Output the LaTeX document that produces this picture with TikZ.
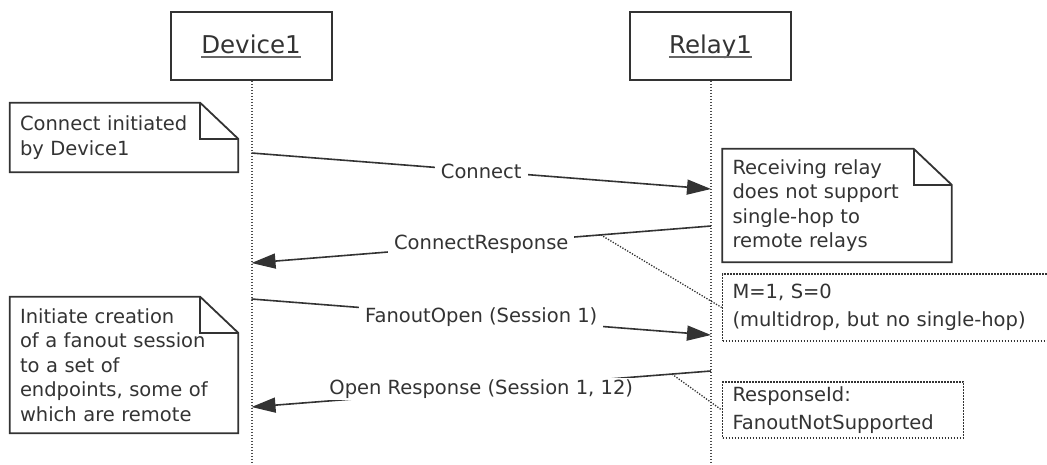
\documentclass[tikz,border=0pt]{standalone}
\usepackage{fontspec}
\setmainfont{DejaVu Sans}
\usetikzlibrary{arrows.meta}
\definecolor{ink}{HTML}{333333}
\definecolor{edge}{HTML}{333333}
\newcommand\nfnt{\fontsize{19.5pt}{24.5pt}\selectfont}
\newcommand\dfnt{\fontsize{19.5pt}{27.5pt}\selectfont}
\newcommand\hfnt{\fontsize{24.5pt}{29pt}\selectfont}
\begin{document}
\begin{tikzpicture}[x=1pt,y=-1pt,
  headbox/.style={draw=edge, line width=1.8pt, minimum width=161pt, minimum height=68pt, inner sep=0pt},
  headtxt/.style={font=\hfnt, text=ink, inner sep=0pt, anchor=base},
  uline/.style={draw=black!60, line width=2.2pt},
  lifeline/.style={draw=black!70, line width=2pt, dash pattern=on 1.5pt off 1.5pt},
  msg/.style={draw=edge, line width=1.6pt, -{Triangle[length=24pt,width=15pt]}},
  lbl/.style={fill=white, text=ink, font=\nfnt, inner xsep=6pt, inner ysep=2pt},
  notebox/.style={text=ink, font=\nfnt, align=left, inner xsep=10pt, inner ysep=0pt},
  noteline/.style={draw=edge, line width=1.8pt, line join=miter},
  dnote/.style={draw=edge, line width=1.6pt, dash pattern=on 1.6pt off 1.4pt, text=ink, font=\dfnt, align=left, inner xsep=10pt, inner ysep=0pt},
  link/.style={draw=edge, line width=1.3pt, dash pattern=on 1.3pt off 1.5pt}
]
\useasboundingbox (0,0) rectangle (1047,464);
\clip (0,0) rectangle (1047,464);

\newcommand\dogear[1]{%
  \draw[noteline] (#1.north west) -- ([xshift=-38pt]#1.north east) -- ([yshift=-36pt]#1.north east) -- (#1.south east) -- (#1.south west) -- cycle;
  \draw[noteline] ([xshift=-38pt]#1.north east) |- ([yshift=-36pt]#1.north east);}

% heads
\node[headbox] (dev) at (251.5,46) {};
\node[headtxt] (devt) at (251,53) {Device1};
\draw[uline] ([yshift=-4pt]devt.base west) -- ([yshift=-4pt]devt.base east);
\node[headbox] (rel) at (710.5,46) {};
\node[headtxt] (relt) at (710.5,53) {Relay1};
\draw[uline] ([yshift=-4pt]relt.base west) -- ([yshift=-4pt]relt.base east);

% lifelines
\coordinate (devbot) at (251.5,470);
\coordinate (relbot) at (711,470);
\draw[lifeline] (dev.south) -- (devbot);
\draw[lifeline] ([xshift=0.5pt]rel.south) -- (relbot);

% notes
\node[notebox, minimum width=228pt, minimum height=69pt, text width=208pt] (n1) at (124,137.5) {Connect initiated\\by Device1};
\dogear{n1}
\node[notebox, minimum width=229pt, minimum height=113pt, text width=209pt] (n2) at (837,205.5) {Receiving relay\\does not support\\single-hop to\\remote relays};
\dogear{n2}
\node[notebox, minimum width=228pt, minimum height=136pt, text width=208pt] (n3) at (124,365) {Initiate creation\\of a fanout session\\to a set of\\endpoints, some of\\which are remote};
\dogear{n3}

\node[dnote, minimum width=340pt, minimum height=67pt, text width=320pt] (mn) at (892.5,307.5) {M=1, S=0\\(multidrop, but no single-hop)};
\node[dnote, minimum width=241pt, minimum height=56pt, text width=221pt] (rn) at (843,410) {ResponseId:\\FanoutNotSupported};

% message end points
\coordinate (c1s) at (251.5,153);
\coordinate (c1e) at (711,189);
\coordinate (c2s) at (711,226);
\coordinate (c2e) at (251.5,263);
\coordinate (c3s) at (251.5,299);
\coordinate (c3e) at (711,335);
\coordinate (c4s) at (711,371);
\coordinate (c4e) at (251.5,407);

\draw[msg] (c1s) -- node[lbl] {Connect} (c1e);
\draw[msg] (c2s) -- coordinate[pos=0.24] (k1) node[lbl] {ConnectResponse} (c2e);
\draw[msg] (c3s) -- node[lbl] {FanoutOpen (Session 1)} (c3e);
\draw[msg] (c4s) -- coordinate[pos=0.085] (k2) node[lbl] {Open Response (Session 1, 12)} (c4e);

\draw[link] (k1) -- (mn.west);
\draw[link] (k2) -- (rn.west);
\end{tikzpicture}
\end{document}
